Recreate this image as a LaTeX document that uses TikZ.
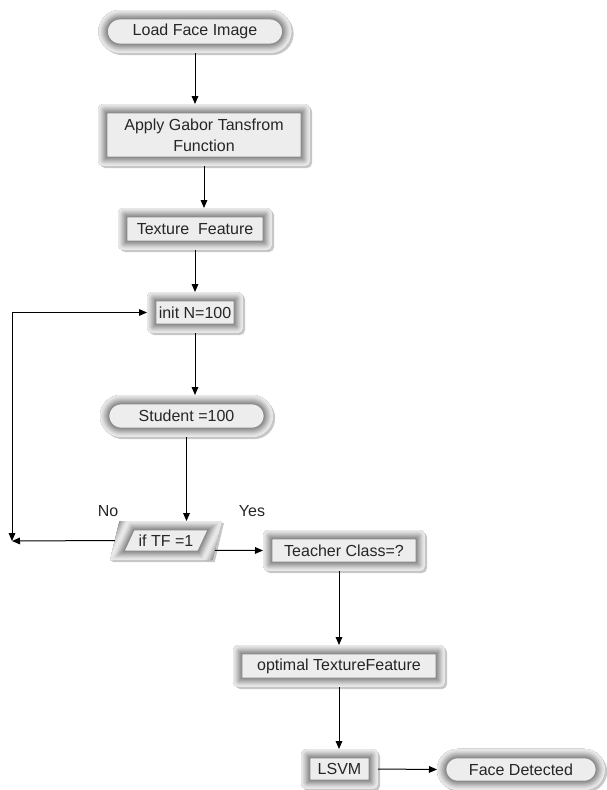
\documentclass[tikz,border=0pt]{standalone}
\usepackage{fontspec}
\setmainfont{Liberation Sans}
\usetikzlibrary{shapes.geometric,shadows,arrows.meta,calc}
\newcommand\bevelpath[2]{\foreach \w/\c in {14/46,12.5/41,11/36,9.5/31,8/26,6.5/21,5/16,3.5/12,2/9}{\draw[#1, line width=\w pt, draw=black!\c] #2;}}
\tikzset{
  base/.style={font=\fontsize{12}{15.5}\selectfont, text=black!85, inner sep=0pt, outer sep=0pt,
    align=center, fill=black!7,
    drop shadow={shadow xshift=1.6pt, shadow yshift=-1.6pt, fill=black, opacity=0.22}},
  rbox/.style={base, rectangle, rounded corners=4pt,
    path picture={\bevelpath{rounded corners=4pt}{(path picture bounding box.south west) rectangle (path picture bounding box.north east)}}},
  stadium/.style={base, rectangle, rounded corners=#1, minimum height=2*#1,
    path picture={\bevelpath{rounded corners=#1}{(path picture bounding box.south west) rectangle (path picture bounding box.north east)}}},
  para/.style={base, trapezium, trapezium left angle=65, trapezium right angle=115,
    trapezium stretches=true, minimum width=84pt, minimum height=29.25pt,
    path picture={\bevelpath{}{(path picture bounding box.south west) -- ([xshift=-13.6pt]path picture bounding box.south east) -- (path picture bounding box.north east) -- ([xshift=13.6pt]path picture bounding box.north west) -- cycle}}},
  arr/.style={draw=black, line width=0.75pt, -{Triangle[length=6pt,width=5pt]}},
  arrboth/.style={draw=black, line width=0.75pt, {Triangle[length=6pt,width=5pt]}-{Triangle[length=6pt,width=5pt]}},
  lbl/.style={font=\fontsize{12}{14}\selectfont, text=black!85, inner sep=0pt}
}
\begin{document}
\begin{tikzpicture}[x=0.75pt,y=-0.75pt]
\useasboundingbox (0,0) rectangle (607,790);
\node[stadium=16.1pt, minimum width=144.75pt] (load) at (195,31.5) {Load Face Image};
\node[rbox, minimum width=159pt, minimum height=46.5pt] (gabor) at (204,135) {Apply Gabor Tansfrom\\Function};
\node[rbox, minimum width=115.5pt, minimum height=31.5pt] (tex) at (195,229) {Texture\ \ Feature};
\node[rbox, minimum width=72pt, minimum height=30.75pt] (init) at (195,312.5) {init N=100};
\node[stadium=15.75pt, minimum width=129.75pt] (student) at (186.5,416) {Student =100};
\node[para] (iftf) at (166,540.5) {if TF =1};
\node[rbox, minimum width=121.5pt, minimum height=30.75pt] (teacher) at (344,550.5) {Teacher Class=?};
\node[rbox, minimum width=159pt, minimum height=31.5pt] (opt) at (339,666) {optimal TextureFeature};
\node[rbox, minimum width=57.75pt, minimum height=30pt] (lsvm) at (339.5,769) {LSVM};
\node[stadium=15.4pt, minimum width=126pt] (face) at (521,769.5) {Face Detected};
\coordinate (loopc) at (12,541);
\node[lbl] (no) at (108,511) {No};
\node[lbl] (yes) at (252,511) {Yes};

\draw[arr] (load.south) -- (load.south |- gabor.north);
\draw[arr] (gabor.south) -- (gabor.south |- tex.north);
\draw[arr] (tex.south) -- (init.north);
\draw[arr] (init.south) -- (init.south |- student.north);
\draw[arr] (student.south) -- (student.south |- iftf.north);
\draw[arr] (iftf.west) -- (loopc);
\draw[arrboth] (loopc) |- (init.west);
\draw[arr] ($(iftf.bottom right corner)!0.25!(iftf.top right corner)$) -- (teacher.west);
\draw[arr] (opt.north |- teacher.south) -- (opt.north);
\draw[arr] (opt.south) -- (opt.south |- lsvm.north);
\draw[arr] (lsvm.east) -- (face.west);
\end{tikzpicture}
\end{document}
